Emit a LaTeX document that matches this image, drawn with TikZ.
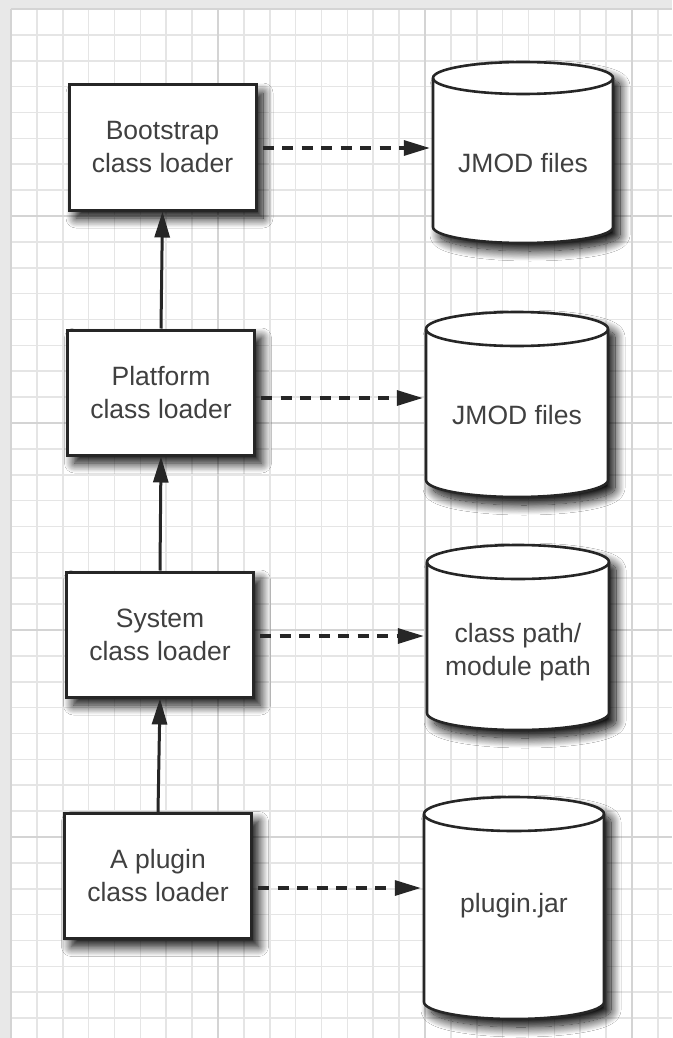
\documentclass[tikz,border=0pt]{standalone}
\usepackage{fontspec}
\setmainfont{Liberation Sans}
\usetikzlibrary{arrows.meta,shadows.blur}
\newcommand\drawcyl[6]{%
  \pgfmathsetmacro\cylcx{(#2+#3)/2}%
  \pgfmathsetmacro\cylrx{(#3-#2)/2}%
  \pgfmathsetmacro\cylyt{-(#4+#6)}%
  \pgfmathsetmacro\cylyb{-(#5-#6)}%
  \pgfmathsetmacro\cylcy{-(#4+#5)/2}%
  \pgfmathsetmacro\cylw{#3-#2}%
  \pgfmathsetmacro\cylh{#5-#4}%
  \path[cylstyle] (#2,\cylyb) arc[start angle=180,end angle=360,x radius=\cylrx,y radius=#6] -- (#3,\cylyt) arc[start angle=0,end angle=180,x radius=\cylrx,y radius=#6] -- cycle;
  \draw[cylline] (#2,\cylyt) arc[start angle=180,end angle=360,x radius=\cylrx,y radius=#6];
  \node[minimum width=\cylw pt,minimum height=\cylh pt,inner sep=0pt] (#1) at (\cylcx,\cylcy) {};
}
\begin{document}
\begin{tikzpicture}[x=1pt,y=1pt,
  myshadow/.style={blur shadow={shadow xshift=7pt,shadow yshift=-8pt,shadow blur radius=10pt,shadow opacity=100,shadow blur steps=16}},
  box/.style={draw=black!85,line width=3pt,fill=white,myshadow,align=center,text=black!75,
    font=\fontsize{26.5}{33}\selectfont,minimum width=187pt,minimum height=125pt,inner sep=0pt},
  cylstyle/.style={draw=black!85,line width=2.6pt,fill=white,myshadow},
  cylline/.style={draw=black!85,line width=2.6pt},
  lbl/.style={align=center,text=black!75,font=\fontsize{26.5}{33}\selectfont,inner sep=0pt},
  uparrow/.style={draw=black!85,line width=3pt,-{Triangle[length=26pt,width=15pt]}},
  dasharrow/.style={draw=black!85,line width=3.2pt,dash pattern=on 11pt off 8.5pt,
    -{Triangle[length=26pt,width=15pt]},shorten >=3pt},
  minorgrid/.style={draw=black!10,line width=1.6pt},
  majorgrid/.style={draw=black!17,line width=1.6pt}
]
\useasboundingbox (0,0) rectangle (672,-1038);
% background frame and grid
\fill[black!9] (0,0) rectangle (672,-1038);
\fill[white] (11,-9) rectangle (672,-1038);
\begin{scope}[shift={(11,-9)}]
  \draw[minorgrid] (0,0) grid[step=25.875] (661,-1029);
  \draw[majorgrid] (0,0) grid[step=207] (661,-1029);
\end{scope}
% boxes
\node[box] (b1) at (162.5,-147.5) {Bootstrap\\class loader};
\node[box] (b2) at (161,-392.5) {Platform\\class loader};
\node[box] (b3) at (160,-634.5) {System\\class loader};
\node[box] (b4) at (158,-876) {A plugin\\class loader};
% cylinders
\drawcyl{c1}{433}{613}{62}{243}{16}
\node[lbl] (t1) at (523,-163) {JMOD files};
\drawcyl{c2}{426}{608}{312}{497}{17}
\node[lbl] (t2) at (517,-415) {JMOD files};
\drawcyl{c3}{427}{609}{545}{730}{17}
\node[lbl] (t3) at (518,-652) {class path/\\module path};
\drawcyl{c4}{424}{604}{797}{1019}{17}
\node[lbl] (t4) at (514,-906) {plugin.jar};
% vertical arrows
\draw[uparrow] (b2.north) -- (b1.south);
\draw[uparrow] (b3.north) -- (b2.south);
\draw[uparrow] (b4.north) -- (b3.south);
% dashed arrows
\coordinate (s1) at ([xshift=5pt,yshift=-0.5pt]b1.east);
\coordinate (s2) at ([xshift=5pt,yshift=-5.5pt]b2.east);
\coordinate (s3) at ([xshift=5pt,yshift=-1.5pt]b3.east);
\coordinate (s4) at ([xshift=5pt,yshift=-12pt]b4.east);
\draw[dasharrow] (s1) -- (s1 -| c1.west);
\draw[dasharrow] (s2) -- (s2 -| c2.west);
\draw[dasharrow] (s3) -- (s3 -| c3.west);
\draw[dasharrow] (s4) -- (s4 -| c4.west);
\end{tikzpicture}
\end{document}
